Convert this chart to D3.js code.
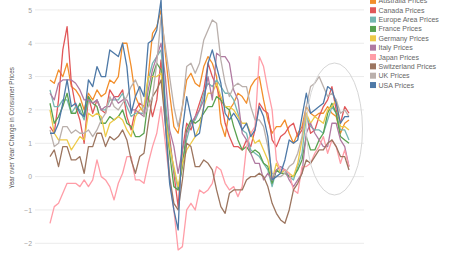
<!DOCTYPE html>
<html>
<head>
<meta charset="utf-8">
<script src="https://cdn.jsdelivr.net/npm/d3@7"></script>
<style>
  html, body { margin: 0; padding: 0; background: #fff; }
  svg { display: block; font-family: "Liberation Sans", Arial, sans-serif; }
</style>
</head>
<body>
<svg id="chart" width="450" height="260"></svg>
<script>
// quarterly YoY CPI change, 2002 Q1 .. 2019 Q3
const years = d3.range(2002, 2020);
const quarters = [];
years.forEach(y => [1, 2, 3, 4].forEach(q => { if (!(y === 2019 && q === 4)) quarters.push(y + ' Q' + q); }));

const seriesNames = ['Australia Prices', 'Canada Prices', 'Europe Area Prices', 'France Prices', 'Germany Prices',
  'Italy Prices', 'Japan Prices', 'Switzerland Prices', 'UK Prices', 'USA Prices'];
const seriesColors = ['#f28e2b', '#e15759', '#76b7b2', '#59a14f', '#edc948',
  '#b07aa1', '#ff9da7', '#9c755f', '#bab0ac', '#4e79a7'];

const australia = [2.9,2.8,3.2,3.0, 3.4,2.7,2.6,2.4, 2.0,2.5,2.3,2.6, 2.4,2.5,2.9,2.8, 3.0,4.0,4.0,3.3, 2.4,2.1,1.9,3.0,
  4.3,4.5,5.0,3.7, 2.5,1.5,1.3,2.1, 2.9,3.1,2.8,2.7, 3.3,3.6,3.4,3.0, 1.6,1.2,2.0,2.2, 2.5,2.4,2.2,2.7,
  2.9,3.0,2.3,1.7, 1.3,1.5,1.5,1.7, 1.3,1.0,1.3,1.5, 2.1,1.9,1.8,1.9, 1.9,2.1,1.9,1.8, 1.3,1.6,1.7];
const canada = [1.5,1.3,2.3,3.8, 4.5,2.8,2.1,1.7, 1.0,2.4,1.9,2.3, 2.0,1.9,2.6,2.4, 2.4,2.6,1.8,1.4, 2.0,2.2,2.1,2.4,
  1.8,2.3,3.5,2.0, 1.2,0.1,-0.9,0.8, 1.6,1.4,1.8,2.2, 2.6,3.4,3.0,2.7, 2.3,1.6,1.2,0.9, 0.9,0.8,1.1,0.9,
  1.4,2.2,2.0,1.9, 1.1,0.9,1.2,1.3, 1.5,1.6,1.2,1.4, 1.9,1.3,1.4,1.8, 2.1,2.3,2.7,2.0, 1.6,2.1,1.9];
const europe = [2.6,2.1,2.1,2.3, 2.3,1.9,2.1,2.0, 1.7,2.3,2.2,2.3, 2.0,2.0,2.3,2.3, 2.3,2.5,2.1,1.8, 1.9,1.9,1.9,2.9,
  3.4,3.6,3.8,2.3, 1.0,0.2,-0.4,0.4, 1.1,1.6,1.7,2.0, 2.5,2.8,2.7,2.9, 2.7,2.5,2.5,2.3, 1.9,1.4,1.3,0.8,
  0.7,0.6,0.4,0.2, -0.3,0.2,0.1,0.2, 0.0,-0.1,0.3,0.7, 1.8,1.5,1.4,1.4, 1.3,1.7,2.1,1.9, 1.4,1.4,1.1];
const france = [2.2,1.6,1.8,2.1, 2.5,1.9,1.9,2.2, 1.8,2.4,2.2,2.1, 1.6,1.6,1.8,1.7, 1.8,2.0,1.6,1.5, 1.2,1.2,1.3,2.3,
  3.0,3.4,3.2,1.9, 0.7,-0.3,-0.4,0.3, 1.4,1.7,1.6,1.7, 1.9,2.1,2.1,2.4, 2.3,2.1,2.0,1.5, 1.1,0.8,0.9,0.7,
  0.8,0.7,0.4,0.3, -0.2,0.2,0.1,0.1, 0.0,0.0,0.2,0.5, 1.2,0.8,0.8,1.1, 1.3,1.9,2.2,1.9, 1.2,1.1,1.0];
const germany = [2.0,1.3,1.1,1.1, 1.1,0.8,1.0,1.2, 1.1,1.9,1.8,1.9, 1.8,1.2,1.6,1.7, 1.8,1.7,1.4,1.2, 1.8,2.0,2.1,3.0,
  3.0,3.0,3.1,1.7, 0.9,0.3,-0.3,0.4, 0.8,1.0,1.2,1.5, 2.1,2.5,2.5,2.8, 2.4,2.1,2.1,2.0, 1.8,1.6,1.6,1.3,
  1.0,1.1,0.8,0.5, -0.1,0.4,0.1,0.2, 0.1,0.0,0.4,1.1, 1.9,1.6,1.8,1.7, 1.6,2.0,2.1,2.3, 1.5,1.5,1.4];
const italy = [2.5,2.3,2.8,2.9, 2.9,2.9,2.8,2.6, 2.3,2.3,2.2,2.3, 2.0,2.1,2.1,2.4, 2.2,2.3,2.3,2.0, 2.0,1.9,1.8,2.6,
  3.2,3.6,4.0,3.0, 1.4,0.9,0.1,0.8, 1.3,1.6,1.8,2.0, 2.3,3.0,2.3,3.7, 3.6,3.6,3.4,2.6, 2.3,1.3,1.1,0.7,
  0.4,0.4,-0.1,0.1, -0.1,0.2,0.3,0.2, -0.1,-0.3,-0.1,0.1, 1.3,1.6,1.3,1.1, 0.9,0.9,1.6,1.6, 1.1,0.9,0.3];
const japan = [-1.4,-0.9,-0.8,-0.5, -0.2,-0.2,-0.2,-0.3, -0.1,-0.3,-0.1,0.5, 0.0,-0.1,-0.3,-0.7, -0.2,0.1,0.6,0.6,
  -0.1,-0.1,-0.2,0.4, 0.9,1.3,2.1,1.0, -0.1,-1.0,-2.2,-2.1, -1.0,-0.8,-1.0,-0.4, -0.5,-0.4,-0.2,0.3,
  0.2,-0.2,-0.4,-0.3, -0.6,-0.3,0.9,1.3, 1.5,3.6,3.3,2.6, 2.0,0.5,0.2,0.2, 0.1,-0.4,-0.5,0.3,
  0.3,0.4,0.7,0.9, 1.2,0.7,1.1,0.9, 0.4,0.8,0.3];
const switzerland = [0.6,0.8,0.3,0.9, 0.9,0.5,0.5,0.6, 0.1,0.9,0.9,1.3, 1.3,0.9,1.2,1.1, 1.2,1.4,1.1,0.5, 0.1,0.6,0.7,1.6,
  2.4,2.6,2.9,1.6, 0.0,-0.8,-1.0,-0.1, 1.0,0.9,0.3,0.3, 0.5,0.4,0.2,-0.4, -0.9,-1.1,-0.5,-0.4, -0.4,-0.4,-0.1,0.0,
  0.0,0.1,0.0,-0.3, -0.8,-1.1,-1.3,-1.4, -1.0,-0.4,-0.2,0.1, 0.5,0.4,0.6,0.8, 0.8,1.0,1.1,0.9, 0.6,0.6,0.2];
const uk = [1.4,0.9,1.0,1.5, 1.5,1.3,1.4,1.3, 1.3,1.4,1.2,1.4, 1.7,1.9,2.4,2.1, 2.0,2.2,2.4,2.7, 2.9,2.6,1.8,2.1,
  2.4,3.4,4.8,3.9, 3.0,2.1,1.5,2.1, 3.3,3.4,3.1,3.4, 4.1,4.4,4.7,4.6, 3.5,2.8,2.4,2.7, 2.8,2.7,2.7,2.1,
  1.7,1.7,1.5,0.9, 0.1,0.0,0.0,0.1, 0.3,0.4,0.7,1.2, 2.1,2.7,2.8,3.0, 2.7,2.4,2.5,2.3, 1.9,2.0,1.8];
const usa = [1.3,1.3,1.6,2.2, 2.9,2.1,2.2,1.9, 1.8,2.9,2.7,3.3, 3.0,3.0,3.8,3.7, 3.6,4.0,3.3,1.9, 2.4,2.7,2.4,4.0,
  4.1,4.4,5.3,1.6, -0.2,-1.0,-1.6,1.4, 2.4,1.8,1.2,1.3, 2.1,3.4,3.8,3.3, 2.8,1.9,1.7,1.9, 1.7,1.4,1.6,1.2,
  1.4,2.1,1.8,1.2, -0.1,0.0,0.1,0.5, 1.1,1.0,1.1,1.8, 2.5,1.9,2.0,2.1, 2.2,2.7,2.6,2.2, 1.6,1.8,1.8];

const seriesValues = [australia, canada, europe, france, germany, italy, japan, switzerland, uk, usa];
const yTicks = [-2, -1, 0, 1, 2, 3, 4, 5];

const svg = d3.select('#chart');

const x = d3.scalePoint().domain(quarters).range([50, 349]);
const y = d3.scaleLinear().domain([-2, 5]).range([243.3, 9.9]);

// grid
svg.append('g').selectAll('line').data(yTicks).enter().append('line')
  .attr('x1', 35).attr('x2', 364)
  .attr('y1', d => y(d)).attr('y2', d => y(d))
  .attr('stroke', '#ebebeb').attr('stroke-width', 1);

// y axis labels, no domain line
const yAxis = d3.axisLeft(y).tickValues(yTicks).tickFormat(d3.format('d')).tickSize(0).tickPadding(0);
const ga = svg.append('g').attr('transform', 'translate(32,0)').call(yAxis);
ga.select('.domain').remove();
ga.selectAll('text').attr('fill', '#a0a0a0').style('font-size', '6.8px')
  .style('font-family', '"Liberation Sans", Arial, sans-serif');

svg.append('text')
  .attr('transform', 'translate(14,128) rotate(-90)')
  .attr('text-anchor', 'middle')
  .attr('fill', '#555').style('font-size', '6.3px')
  .text('Year over Year Change in Consumer Prices');

// lines
const line = d3.line().x((d, i) => x(quarters[i])).y(d => y(d));
svg.append('g').selectAll('path').data(seriesValues).enter().append('path')
  .attr('d', d => line(d))
  .attr('fill', 'none')
  .attr('stroke', (d, i) => seriesColors[i])
  .attr('stroke-width', 1.3)
  .attr('stroke-linejoin', 'round');

// annotation ellipse
svg.append('ellipse')
  .attr('cx', 334.5).attr('cy', 129).attr('rx', 28).attr('ry', 66)
  .attr('fill', 'none').attr('stroke', '#d6d6d6').attr('stroke-width', 1);

// legend (first row sits at the top edge, as in the source)
const lg = svg.append('g').selectAll('g').data(seriesNames).enter().append('g')
  .attr('transform', (d, i) => `translate(370,${0.9 + i * 9.35})`);
lg.append('rect').attr('x', 0).attr('y', -3).attr('width', 6).attr('height', 6)
  .attr('fill', (d, i) => seriesColors[i]);
lg.append('text').attr('x', 8.5).attr('y', 2.5)
  .attr('fill', '#666').style('font-size', '7px')
  .text(d => d);
</script>
</body>
</html>
